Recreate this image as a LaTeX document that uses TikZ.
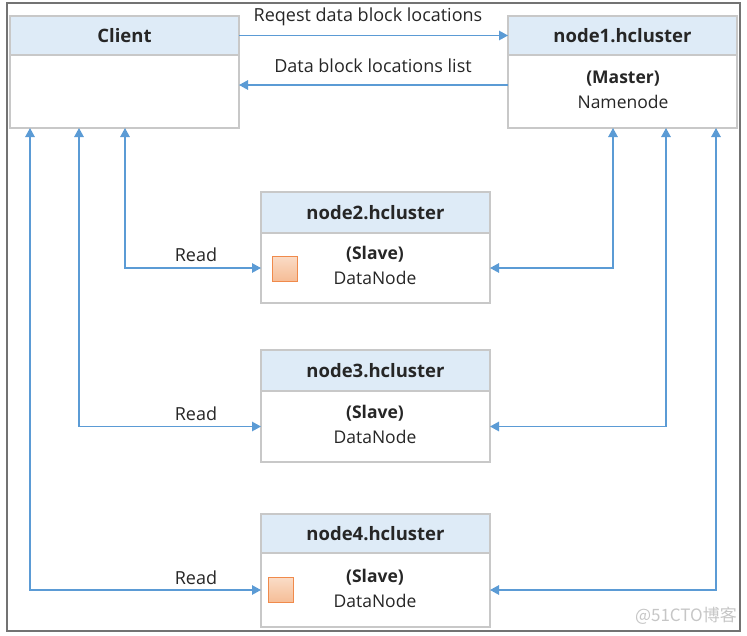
\documentclass[tikz,border=0pt]{standalone}
\usepackage{fontspec}
\setmainfont{Open Sans}
\newfontfamily\cjk{Noto Sans CJK SC}
\usetikzlibrary{arrows.meta}
\definecolor{arrowblue}{HTML}{5B9BD5}
\definecolor{boxgray}{HTML}{C8C8C8}
\definecolor{hdrfill}{HTML}{DEEBF7}
\definecolor{txt}{HTML}{262626}
\definecolor{sqfill}{HTML}{F4B183}
\definecolor{sqdraw}{HTML}{F08A4B}
\tikzset{
  hdr/.style={draw=boxgray, line width=1.2pt, fill=hdrfill, rectangle, inner sep=0pt, outer sep=0pt,
    anchor=north west, minimum width=229pt, font=\fontsize{18.5}{20}\selectfont\bfseries, text=txt},
  bdy/.style={draw=boxgray, line width=1.2pt, fill=white, rectangle, inner sep=0pt, outer sep=0pt,
    anchor=north west, minimum width=229pt, align=center, font=\fontsize{17.5}{25}\selectfont, text=txt},
  tip/.tip={Triangle[length=9pt,width=9.5pt]},
  arr/.style={draw=arrowblue, line width=1.3pt, -tip},
  darr/.style={draw=arrowblue, line width=1.3pt, tip-tip},
  lbl/.style={font=\fontsize{18}{20}\selectfont, text=txt, inner sep=0pt},
  bodytxt/.style={font=\fontsize{17.5}{25}\selectfont, text=txt, align=center, inner sep=0pt},
  sq/.style={draw=sqdraw, line width=1pt, top color=sqfill!45!white, bottom color=sqfill!85!white, minimum size=25pt, inner sep=0pt}
}
\begin{document}
\begin{tikzpicture}[x=1pt,y=-1pt]
\useasboundingbox (0,0) rectangle (747,635);
\draw[draw=gray!90!black, line width=1.3pt] (7,3) rectangle (740,631);

% client
\node[bdy, minimum height=73pt] (cb) at (10,55) {};
\node[hdr, minimum height=39pt] (ch) at (10,16) {Client};
% node1
\node[bdy, minimum height=73pt] (n1b) at (508,55) {};
\node[hdr, minimum height=39pt] (n1h) at (508,16) {node1.hcluster};
\node[bodytxt] (t1) at (623,89.5) {\textbf{(Master)}\\Namenode};
% node2
\node[bdy, minimum height=70pt] (n2b) at (261,233) {};
\node[hdr, minimum height=41pt] (n2h) at (261,192) {node2.hcluster};
\node[bodytxt] (t2) at (375,265.5) {\textbf{(Slave)}\\DataNode};
\node[sq] (q2) at (285,268.5) {};
% node3
\node[bdy, minimum height=71pt] (n3b) at (261,391) {};
\node[hdr, minimum height=41pt] (n3h) at (261,350) {node3.hcluster};
\node[bodytxt] (t3) at (375,424) {\textbf{(Slave)}\\DataNode};
% node4
\node[bdy, minimum height=74pt] (n4b) at (261,553) {};
\node[hdr, minimum height=39pt] (n4h) at (261,514) {node4.hcluster};
\node[bodytxt] (t4) at (375,588) {\textbf{(Slave)}\\DataNode};
\node[sq] (q4) at (281,590) {};

% top arrows
\draw[arr] (ch.east) -- (n1h.west);
\node[lbl] (l1) at (368,17) {Reqest data block locations};
\draw[arr] ([yshift=6.5pt]n1b.west) -- ([yshift=6.5pt]cb.east);
\node[lbl] (l2) at (373,66) {Data block locations list};

% client to data nodes
\draw[darr] ([xshift=115pt]cb.south west) |- (n2b.west);
\draw[darr] ([xshift=69pt]cb.south west) |- (n3b.west);
\draw[darr] ([xshift=20pt]cb.south west) |- (n4b.west);
\node[lbl] (r2) at (196,255) {Read};
\node[lbl] (r3) at (196,414) {Read};
\node[lbl] (r4) at (196,578) {Read};

% namenode to data nodes
\draw[darr] ([xshift=105pt]n1b.south west) |- (n2b.east);
\draw[darr] ([xshift=158pt]n1b.south west) |- (n3b.east);
\draw[darr] ([xshift=208pt]n1b.south west) |- (n4b.east);

\node[font=\cjk\fontsize{17}{18}\selectfont, text=gray!45, inner sep=0pt, anchor=east] (wm) at (737,616) {@51CTO博客};
\end{tikzpicture}
\end{document}
